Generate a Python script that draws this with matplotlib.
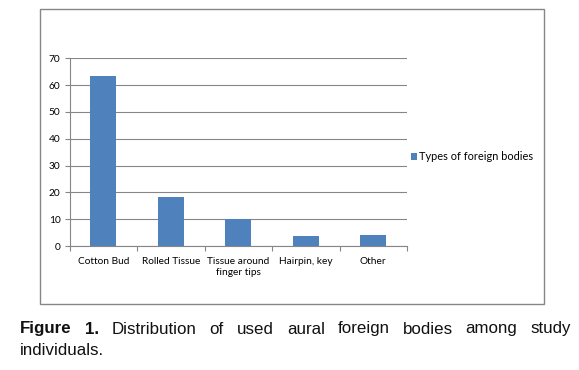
import matplotlib
matplotlib.use("Agg")
import matplotlib.pyplot as plt
from matplotlib.patches import Rectangle
import numpy as np

categories = ["Cotton Bud", "Rolled Tissue", "Tissue around\nfinger tips", "Hairpin, key", "Other"]
values = [63.3, 18.3, 10.0, 3.7, 4.2]
yticks = [0, 10, 20, 30, 40, 50, 60, 70]
series_name = "Types of foreign bodies"
caption_bold = ["Figure", "1."]
caption_line1 = ["Distribution", "of", "used", "aural", "foreign", "bodies", "among", "study"]
caption_line2 = "individuals."

W, H = 579, 370
fig = plt.figure(figsize=(W / 100, H / 100), dpi=100)
fig.patch.set_facecolor("white")

def fx(px):
    return px / W

def fy(py):
    return 1 - py / H

# outer chart frame
fig.patches.append(Rectangle((fx(39.5), fy(304)), fx(544) - fx(39.5), fy(9.5) - fy(304),
                             transform=fig.transFigure, fill=False, edgecolor="#868686",
                             linewidth=1.0))

ax = fig.add_axes([fx(69.5), fy(246), fx(407) - fx(69.5), fy(58.3) - fy(246)])
x = np.arange(len(categories))
bars = ax.bar(x, values, width=0.39, color="#4F81BD", label=series_name, zorder=3)
ax.set_xlim(-0.5, len(categories) - 0.5)
ax.set_ylim(0, 70)
ax.set_yticks(yticks)
ax.set_yticklabels([str(v) for v in yticks])
ax.yaxis.grid(True, color="#868686", linewidth=0.8, zorder=0)
ax.set_axisbelow(True)
for s in ["top", "right"]:
    ax.spines[s].set_visible(False)
for s in ["left", "bottom"]:
    ax.spines[s].set_color("#868686")
    ax.spines[s].set_linewidth(0.8)

ax.set_xticks(np.arange(len(categories) + 1) - 0.5)
ax.set_xticklabels([])
ax.set_xticks(x, minor=True)
ax.set_xticklabels(categories, minor=True, fontsize=7.3, family="Lato", linespacing=1.25)
ax.tick_params(axis="x", which="major", length=3.5, color="#868686", direction="out")
ax.tick_params(axis="x", which="minor", length=0, pad=8)
ax.tick_params(axis="y", length=3.5, color="#868686", labelsize=7.3, pad=3)
for lab in ax.get_yticklabels():
    lab.set_family("Lato")

leg = fig.legend(handles=[bars], labels=[series_name], loc="center left",
                 bbox_to_anchor=(fx(411), fy(157)), frameon=False,
                 prop={"family": "Lato", "size": 7.9}, handlelength=0.55, handleheight=0.55,
                 handletextpad=0.2, borderaxespad=0, borderpad=0)

# caption, justified first line
renderer = fig.canvas.get_renderer()
words = [(w, "bold") for w in caption_bold] + [(w, "normal") for w in caption_line1]
texts = []
for w, wt in words:
    t = fig.text(0, fy(333.5), w, fontsize=12.2, family="Liberation Sans", weight=wt,
                 va="baseline", ha="left", color="#111111")
    texts.append(t)
widths = [t.get_window_extent(renderer).width for t in texts]
left, right = 20, 571
gap = (right - left - sum(widths)) / (len(texts) - 1)
pos = left
for t, w in zip(texts, widths):
    t.set_x(fx(pos))
    pos += w + gap
fig.text(fx(20), fy(355), caption_line2, fontsize=12.2, family="Liberation Sans",
         va="baseline", ha="left", color="#111111")

fig.savefig("out.png", dpi=100, facecolor="white")
